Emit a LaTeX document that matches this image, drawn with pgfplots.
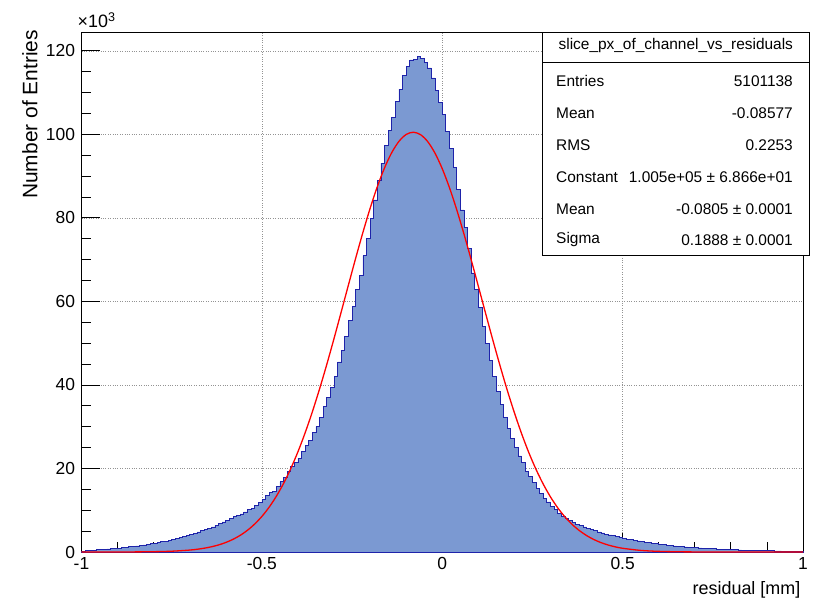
\documentclass[border=0pt]{standalone}
\usepackage{fontspec}
\setmainfont{Liberation Sans}
\usepackage{pgfplots}
\pgfplotsset{compat=1.18}
\usepackage{pgfplotstable}
\definecolor{histfill}{RGB}{123,153,210}
\definecolor{histline}{RGB}{30,35,170}
\pgfplotsset{
  layers/gridbelow/.define layer set={axis background,axis grid,pre main,main,axis ticks,axis lines,axis tick labels,axis descriptions,axis foreground}{},
}
\pgfplotstableread{
x y
-1.00 0.2
-0.99 0.3
-0.98 0.4
-0.97 0.46
-0.96 0.52
-0.95 0.58
-0.94 0.65
-0.93 0.72
-0.92 0.8
-0.91 0.87
-0.90 0.95
-0.89 1.05
-0.88 1.15
-0.87 1.25
-0.86 1.35
-0.85 1.45
-0.84 1.55
-0.83 1.7
-0.82 1.85
-0.81 2.0
-0.80 2.15
-0.79 2.3
-0.78 2.45
-0.77 2.6
-0.76 2.8
-0.75 3.0
-0.74 3.2
-0.73 3.45
-0.72 3.7
-0.71 3.95
-0.70 4.2
-0.69 4.5
-0.68 4.8
-0.67 5.1
-0.66 5.4
-0.65 5.7
-0.64 6.0
-0.63 6.4
-0.62 6.8
-0.61 7.2
-0.60 7.6
-0.59 8.0
-0.58 8.5
-0.57 8.8
-0.56 9.1
-0.55 9.6
-0.54 10.1
-0.53 10.5
-0.52 11.2
-0.51 11.8
-0.50 12.5
-0.49 13.6
-0.48 14.2
-0.47 14.5
-0.46 15.6
-0.45 16.8
-0.44 17.9
-0.43 19.2
-0.42 20.4
-0.41 21.4
-0.40 22.5
-0.39 24.0
-0.38 25.6
-0.37 26.8
-0.36 28.6
-0.35 30.0
-0.34 32.3
-0.33 34.8
-0.32 37.0
-0.31 39.4
-0.30 42.0
-0.29 45.5
-0.28 48.2
-0.27 51.7
-0.26 55.4
-0.25 58.8
-0.24 62.8
-0.23 66.3
-0.22 70.9
-0.21 75.1
-0.20 79.9
-0.19 84.3
-0.18 88.9
-0.17 93.1
-0.16 97.4
-0.15 100.9
-0.14 104.1
-0.13 107.8
-0.12 110.8
-0.11 114.2
-0.10 116.2
-0.09 117.8
-0.08 118.0
-0.07 118.6
-0.06 118.2
-0.05 117.2
-0.04 115.9
-0.03 113.5
-0.02 110.5
-0.01 107.7
0.00 104.7
0.01 100.6
0.02 96.6
0.03 92.0
0.04 86.9
0.05 81.9
0.06 77.8
0.07 72.6
0.08 66.8
0.09 62.9
0.10 58.6
0.11 54.0
0.12 50.0
0.13 45.8
0.14 42.0
0.15 38.5
0.16 35.3
0.17 32.3
0.18 29.6
0.19 27.2
0.20 25.0
0.21 23.0
0.22 21.4
0.23 19.3
0.24 18.0
0.25 16.6
0.26 15.2
0.27 14.1
0.28 12.9
0.29 12.0
0.30 11.0
0.31 10.1
0.32 9.3
0.33 8.6
0.34 8.0
0.35 7.5
0.36 7.0
0.37 6.6
0.38 6.3
0.39 6.0
0.40 5.7
0.41 5.4
0.42 5.1
0.43 4.8
0.44 4.55
0.45 4.3
0.46 4.1
0.47 3.9
0.48 3.7
0.49 3.5
0.50 3.3
0.51 3.1
0.52 2.95
0.53 2.8
0.54 2.65
0.55 2.5
0.56 2.35
0.57 2.2
0.58 2.05
0.59 1.95
0.60 1.85
0.61 1.75
0.62 1.65
0.63 1.55
0.64 1.45
0.65 1.38
0.66 1.3
0.67 1.22
0.68 1.15
0.69 1.08
0.70 1.02
0.71 0.96
0.72 0.9
0.73 0.85
0.74 0.8
0.75 0.75
0.76 0.7
0.77 0.66
0.78 0.62
0.79 0.58
0.80 0.55
0.81 0.52
0.82 0.49
0.83 0.46
0.84 0.43
0.85 0.4
0.86 0.38
0.87 0.36
0.88 0.34
0.89 0.32
0.90 0.3
0.91 0.28
0.92 0.26
0.93 0.24
0.94 0.22
0.95 0.2
0.96 0.18
0.97 0.16
0.98 0.14
0.99 0.12
1.00 0.12
}\hist
\begin{document}
\begin{tikzpicture}
\begin{axis}[
  set layers=gridbelow,
  scale only axis, width=721.5bp, height=520bp,
  xmin=-1, xmax=1, ymin=0, ymax=124.5,
  xtick={-1,-0.5,0,0.5,1}, xticklabels={-1,-0.5,0,0.5,1},
  minor x tick num=4,
  ytick={0,20,40,60,80,100,120}, yticklabels={0,20,40,60,80,100,120},
  minor y tick num=3,
  tick pos=left, tick align=inside,
  major tick length=19bp, minor tick length=9.5bp,
  grid=major, major grid style={dotted, gray!85, line width=0.55bp},
  axis line style={line width=0.8bp},
  tick style={black, line width=0.8bp},
  tick label style={font=\fontsize{17.5}{17.5}\selectfont},
  xticklabel style={yshift=-1.5bp},
  yticklabel style={xshift=-3bp},
  clip=false,
]
\addplot[const plot, fill=histfill, draw=histline, line width=0.75bp] table[x=x,y=y]{\hist} \closedcycle;
\addplot[red, line width=1.3bp, smooth] coordinates {
(-1.00,0.0007) (-0.95,0.0025) (-0.90,0.008) (-0.85,0.025) (-0.80,0.071) (-0.75,0.187) (-0.70,0.462) (-0.68,0.650) (-0.66,0.905) (-0.64,1.246) (-0.62,1.692) (-0.60,2.280) (-0.58,3.036) (-0.56,3.993) (-0.54,5.198) (-0.52,6.694) (-0.50,8.516) (-0.48,10.71) (-0.46,13.33) (-0.44,16.40) (-0.42,19.95) (-0.40,24.00) (-0.38,28.56) (-0.36,33.59) (-0.34,39.07) (-0.32,44.93) (-0.30,51.11) (-0.28,57.51) (-0.26,63.95) (-0.24,70.34) (-0.22,76.49) (-0.20,82.26) (-0.18,87.47) (-0.16,91.97) (-0.14,95.63) (-0.12,98.32) (-0.10,99.97) (-0.08,100.50) (-0.06,99.91) (-0.04,98.22) (-0.02,95.47) (0.00,91.77) (0.02,87.22) (0.04,81.98) (0.06,76.19) (0.08,70.03) (0.10,63.64) (0.12,57.19) (0.14,50.81) (0.16,44.65) (0.18,38.79) (0.20,33.34) (0.22,28.32) (0.24,23.79) (0.26,19.77) (0.28,16.24) (0.30,13.19) (0.32,10.59) (0.34,8.414) (0.36,6.608) (0.38,5.133) (0.40,3.942) (0.42,2.993) (0.44,2.247) (0.46,1.670) (0.48,1.226) (0.50,0.890) (0.55,0.381) (0.60,0.152) (0.65,0.056) (0.70,0.020) (0.80,0.002) (0.90,0.0001) (1.00,0)
};
\end{axis}
% stats box
\fill[white] (461.2bp,297bp) rectangle (727.5bp,520bp);
\draw[line width=0.8bp] (461.2bp,297bp) rectangle (727.5bp,520bp);
\draw[line width=0.8bp] (461.2bp,490bp) -- (727.5bp,490bp);
\begin{scope}[every node/.style={font=\fontsize{15.5}{15.5}\selectfont, inner sep=0pt}]
\node at (594.3bp,506bp) {slice\_px\_of\_channel\_vs\_residuals};
\node[anchor=west] at (474.5bp,471bp) {Entries};
\node[anchor=east] at (711.5bp,471bp) {5101138};
\node[anchor=west] at (474.5bp,439bp) {Mean};
\node[anchor=east] at (711.5bp,439bp) {-0.08577};
\node[anchor=west] at (474.5bp,407bp) {RMS};
\node[anchor=east] at (711.5bp,407bp) {0.2253};
\node[anchor=west] at (474.5bp,375bp) {Constant};
\node[anchor=east] at (711.5bp,375bp) {1.005e+05 ± 6.866e+01};
\node[anchor=west] at (474.5bp,343bp) {Mean};
\node[anchor=east] at (711.5bp,343bp) {-0.0805 ± 0.0001};
\node[anchor=west] at (474.5bp,312bp) {Sigma};
\node[anchor=east] at (711.5bp,312bp) {0.1888 ± 0.0001};
\end{scope}
\node[anchor=base west, inner sep=0pt, font=\fontsize{18}{18}\selectfont] at (-4bp,524bp) {×10\textsuperscript{3}};
\node[anchor=east, rotate=90, inner sep=0pt, font=\fontsize{21}{21}\selectfont] at (-51.5bp,522bp) {Number of Entries};
\node[anchor=east, inner sep=0pt, font=\fontsize{18}{18}\selectfont] at (719bp,-38bp) {residual [mm]};
\pgfresetboundingbox
\path[use as bounding box] (-81.5bp,-48bp) rectangle (733.5bp,552bp);
\end{tikzpicture}
\end{document}
